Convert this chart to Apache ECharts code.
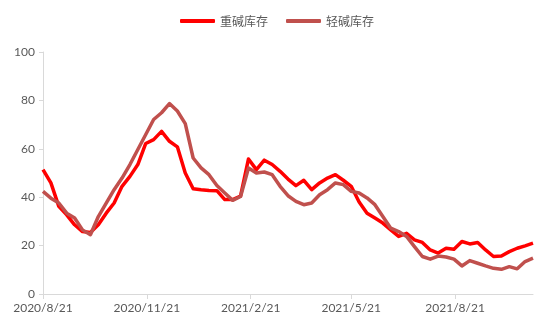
<!DOCTYPE html>
<html>
<head>
<meta charset="utf-8">
<script src="https://cdn.jsdelivr.net/npm/echarts@6/dist/echarts.min.js"></script>
<style>
html,body{margin:0;padding:0;background:#fff;}
#c{width:550px;height:330px;}
</style>
</head>
<body>
<div id="c"></div>
<script>
const dates = [
'2020-08-21','2020-08-28','2020-09-04','2020-09-11','2020-09-18','2020-09-25','2020-10-02','2020-10-09','2020-10-16','2020-10-23','2020-10-30',
'2020-11-06','2020-11-13','2020-11-20','2020-11-27','2020-12-04','2020-12-11','2020-12-18','2020-12-25',
'2021-01-01','2021-01-08','2021-01-15','2021-01-22','2021-01-29','2021-02-05','2021-02-12','2021-02-19','2021-02-26',
'2021-03-05','2021-03-12','2021-03-19','2021-03-26','2021-04-02','2021-04-09','2021-04-16','2021-04-23','2021-04-30',
'2021-05-07','2021-05-14','2021-05-21','2021-05-28','2021-06-04','2021-06-11','2021-06-18','2021-06-25',
'2021-07-02','2021-07-09','2021-07-16','2021-07-23','2021-07-30','2021-08-06','2021-08-13','2021-08-20','2021-08-27',
'2021-09-03','2021-09-10','2021-09-17','2021-09-24','2021-10-01','2021-10-08','2021-10-15','2021-10-22','2021-10-29'
];
const heavySoda = [
51.4,45.9,36.2,32.7,28.6,25.8,25.4,28.6,33.4,37.6,44.5,48.6,53.5,62.2,63.8,67.2,63.1,60.8,50,43.5,
43.1,42.8,42.7,39,39,40.5,55.8,51.4,55.3,53.5,50.7,47.5,44.8,47,43.1,45.9,47.9,49.3,47,44.5,
38,33.4,31.4,29.3,26.5,23.8,25.1,22.4,21.3,18.2,16.9,18.9,18.5,21.7,20.7,21.3,18.2,15.5,15.7,17.5,
18.9,19.9,21
];
const lightSoda = [
42.4,39.6,37.6,33.4,31.4,26.5,24.5,32,37.6,43.1,47.9,53.5,59.7,65.9,72.1,74.9,78.7,75.6,70.4,56.2,
52.1,49.3,44.8,41.7,38.7,40.3,52.1,50,50.4,49.3,44.5,40.6,38.3,36.9,37.6,41,43.1,45.9,45.2,42.4,
41.7,39.7,36.9,32,27.2,25.8,23.8,19.6,15.5,14.4,15.7,15.3,14.4,11.6,13.8,12.7,11.6,10.6,10.2,11.3,
10.4,13.4,14.8
];
const xTickDates = ['2020-08-21','2020-11-21','2021-02-21','2021-05-21','2021-08-21'];
const seriesNames = ['重碱库存','轻碱库存'];

const DAY = 86400000;
function utc(s){const p=s.split('-').map(Number);return Date.UTC(p[0],p[1]-1,p[2]);}
const t0 = utc(dates[0]);
function dayNum(s){return Math.round((utc(s)-t0)/DAY);}
const xTicks = xTickDates.map(dayNum);
function fmt(v){const d=new Date(t0+v*DAY);return d.getUTCFullYear()+'/'+(d.getUTCMonth()+1)+'/'+d.getUTCDate();}

const chart = echarts.init(document.getElementById('c'));
const axisFont = {fontFamily:'Lato, "Noto Sans", sans-serif', fontSize:12, color:'#595959'};
chart.setOption({
  animation:false,
  backgroundColor:'#fff',
  grid:{left:43, right:17, top:52, bottom:36, containLabel:false},
  legend:{
    left:175, top:10, icon:'roundRect', itemWidth:35, itemHeight:4, itemGap:18,
    textStyle:{fontFamily:'"Noto Sans CJK SC", sans-serif', fontSize:12, color:'#595959'},
    data:seriesNames
  },
  xAxis:{
    type:'value', min:0, max:dayNum(dates[dates.length-1]),
    axisLine:{show:true, lineStyle:{color:'#d9d9d9', width:1}},
    axisTick:{show:true, customValues:xTicks, length:5, lineStyle:{color:'#d9d9d9'}},
    axisLabel:Object.assign({customValues:xTicks, margin:8, formatter:fmt}, axisFont),
    splitLine:{show:false}
  },
  yAxis:{
    type:'value', min:0, max:100, interval:20,
    axisLine:{show:true, lineStyle:{color:'#d9d9d9', width:1}},
    axisTick:{show:true, length:4, lineStyle:{color:'#d9d9d9'}},
    axisLabel:Object.assign({margin:8}, axisFont),
    splitLine:{show:false}
  },
  series:[
    {name:seriesNames[0], type:'line', symbol:'none', color:'#ff0000',
     lineStyle:{width:3.5, color:'#ff0000', join:'round'},
     data:dates.map((d,i)=>[dayNum(d), heavySoda[i]])},
    {name:seriesNames[1], type:'line', symbol:'none', color:'#c0504d',
     lineStyle:{width:3.5, color:'#c0504d', join:'round'},
     data:dates.map((d,i)=>[dayNum(d), lightSoda[i]])}
  ]
});
</script>
</body>
</html>
